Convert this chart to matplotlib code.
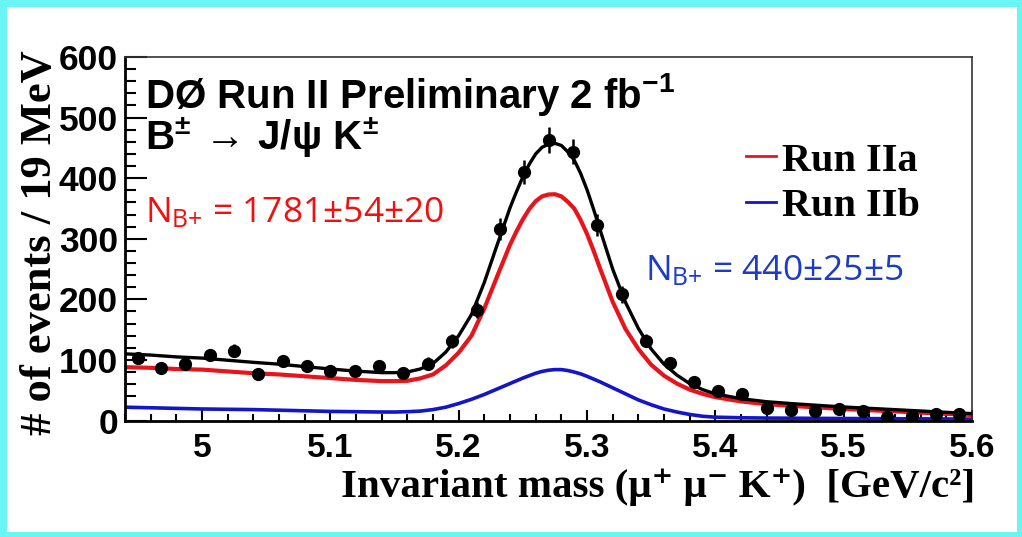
import matplotlib
matplotlib.use("Agg")
import matplotlib.pyplot as plt
from matplotlib.patches import Rectangle
from matplotlib.ticker import MultipleLocator

plt.rcParams['mathtext.fontset'] = 'custom'
plt.rcParams['mathtext.rm'] = 'Liberation Sans:bold'
plt.rcParams['mathtext.bf'] = 'Liberation Sans:bold'
plt.rcParams['mathtext.it'] = 'Liberation Sans:bold'
plt.rcParams['mathtext.sf'] = 'Open Sans'

# binned data, mu+ mu- K+ mass [GeV/c^2]
mass = [4.950, 4.968, 4.987, 5.006, 5.025, 5.044, 5.063, 5.082, 5.100, 5.119,
        5.138, 5.157, 5.176, 5.195, 5.214, 5.232, 5.251, 5.270, 5.289, 5.308,
        5.327, 5.346, 5.365, 5.383, 5.402, 5.421, 5.440, 5.459, 5.478, 5.496,
        5.515, 5.534, 5.553, 5.572, 5.590]
events = [103, 87, 93, 108, 115, 76, 98, 90, 81, 81,
          90, 79, 94, 131, 182, 316, 410, 463, 444, 323,
          208, 132, 95, 63, 48, 43, 21, 17, 15, 19,
          15, 5, 7, 10, 10]
events_err = [10, 9, 10, 10, 11, 9, 10, 9, 9, 9,
              9, 9, 10, 11, 13, 18, 20, 22, 21, 18,
              14, 11, 10, 8, 7, 7, 5, 4, 4, 4,
              4, 2, 3, 3, 3]

# fit components
fit_mass = [4.94, 4.96, 4.98, 5.00, 5.02, 5.04, 5.06, 5.08, 5.10, 5.12,
            5.14, 5.15, 5.16, 5.17, 5.18, 5.19, 5.20, 5.21, 5.22, 5.23,
            5.24, 5.245, 5.25, 5.255, 5.26, 5.265, 5.27, 5.275, 5.28, 5.285,
            5.29, 5.295, 5.30, 5.305, 5.31, 5.32, 5.33,
            5.34, 5.35, 5.36, 5.37, 5.38, 5.39, 5.40, 5.42, 5.44, 5.46,
            5.48, 5.50, 5.52, 5.54, 5.56, 5.58, 5.60]
fit_run2a = [88, 87, 85, 84, 81, 78, 76, 73, 70, 67,
             65, 65, 65.5, 69.5, 76, 91, 112, 140, 185, 238,
             290, 312, 332, 349, 362, 370, 373, 373.5, 370, 361,
             350, 331, 308, 281, 252, 196, 151,
             118, 92, 74, 61, 51, 44, 38.5, 31.5, 27, 24,
             21.5, 19, 17, 15, 13, 11, 9]
fit_run2b = [22, 21, 20, 19, 18.5, 18, 17, 16, 15, 14.5,
             14, 14, 14.5, 15.5, 18, 22, 28, 35, 43, 52,
             61, 65.5, 70, 74, 78, 81, 83, 84, 84, 82.5,
             80, 77, 73, 68.5, 64, 54, 44,
             34, 26, 19, 14, 10, 7, 5.5, 4.5, 4, 3.8,
             3.5, 3.3, 3.1, 2.9, 2.7, 2.5, 2.3]
fit_total = [a + b for a, b in zip(fit_run2a, fit_run2b)]

red = '#e8141c'
blue = '#1414c8'

fig = plt.figure(figsize=(10.22, 5.37), dpi=100)
fig.patch.set_facecolor('#6af5f5')
fig.patches.append(Rectangle((7 / 1022, 5 / 537), 1010 / 1022, 525 / 537,
                             transform=fig.transFigure, facecolor='white',
                             edgecolor='none', zorder=-1))

ax = fig.add_axes([125 / 1022, 116.5 / 537, 847 / 1022, 363.5 / 537])
ax.set_zorder(1)
ax.set_facecolor('white')

ax.plot(fit_mass, fit_total, color='black', lw=2.4, zorder=3)
ax.plot(fit_mass, fit_run2a, color=red, lw=3.0, zorder=2, label='Run IIa')
ax.plot(fit_mass, fit_run2b, color=blue, lw=2.6, zorder=2, label='Run IIb')
ax.errorbar(mass, events, yerr=events_err, fmt='o', color='black', ms=8.5,
            elinewidth=1.8, capsize=0, zorder=4)

ax.set_xlim(4.94, 5.6)
ax.set_ylim(0, 600)
ax.xaxis.set_major_locator(MultipleLocator(0.1))
ax.xaxis.set_minor_locator(MultipleLocator(0.02))
ax.yaxis.set_major_locator(MultipleLocator(100))
ax.yaxis.set_minor_locator(MultipleLocator(20))
ax.set_xticks([5.0, 5.1, 5.2, 5.3, 5.4, 5.5, 5.6])
ax.set_xticklabels(['5', '5.1', '5.2', '5.3', '5.4', '5.5', '5.6'])

ax.tick_params(axis='both', which='both', direction='in', top=False, right=False,
               width=1.5, color='black')
ax.tick_params(axis='y', which='major', length=16, pad=5)
ax.tick_params(axis='y', which='minor', length=8)
ax.tick_params(axis='x', which='major', length=8, pad=9)
ax.tick_params(axis='x', which='minor', length=5)
for lab in ax.get_yticklabels():
    lab.set_fontfamily('Liberation Sans')
    lab.set_fontweight('bold')
    lab.set_fontsize(25.5)
for lab in ax.get_xticklabels():
    lab.set_fontfamily('Liberation Sans')
    lab.set_fontweight('bold')
    lab.set_fontsize(24)

for side in ['left', 'bottom']:
    ax.spines[side].set_linewidth(2)
    ax.spines[side].set_color('black')
for side in ['top', 'right']:
    ax.spines[side].set_linewidth(1.2)
    ax.spines[side].set_color('#333333')

fig.text(40 / 1022, 1 - 243 / 537, '# of events / 19 MeV', rotation=90,
         ha='center', va='center', family='Liberation Serif', weight='bold', size=32)
fig.text(658 / 1022, 1 - 497 / 537, 'Invariant mass (μ⁺ μ⁻ K⁺)  [GeV/c²]',
         ha='center', va='baseline', family=['Liberation Serif', 'DejaVu Serif'],
         weight='bold', size=29.5)

fig.text(145 / 1022, 1 - 108 / 537, 'DØ Run II Preliminary 2 fb$^{-1}$',
         family='Liberation Sans', weight='bold', size=29, va='baseline')
fig.text(145 / 1022, 1 - 150 / 537, r'B$^{\pm}\,\rightarrow\,$J/$\psi$ K$^{\pm}$',
         family='Liberation Sans', weight='bold', size=29, va='baseline')

fig.text(145 / 1022, 1 - 222 / 537, r'N$_{\mathsf{B{+}}}$ = 1781±54±20',
         family='Open Sans', color='#f01010', size=25.5, va='baseline')
fig.text(645 / 1022, 1 - 280 / 537, r'N$_{\mathsf{B{+}}}$ = 440±25±5',
         family='Open Sans', color='#1a3cc8', size=25.5, va='baseline')

leg = ax.legend(loc='upper left', bbox_to_anchor=(0.69, 0.865), frameon=False,
                handlelength=0.75, handletextpad=0.15, labelspacing=0.2,
                prop={'family': 'Liberation Serif', 'weight': 'bold', 'size': 29})
for line in leg.get_lines():
    line.set_linewidth(2)

fig.savefig('out.png', dpi=100)
